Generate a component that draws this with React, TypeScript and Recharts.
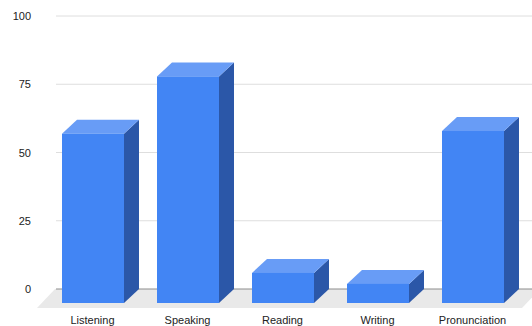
import React from "react";
import { BarChart, Bar, XAxis, YAxis, CartesianGrid } from "recharts";

const skills = ["Listening", "Speaking", "Reading", "Writing", "Pronunciation"];
const scores = [62, 83, 11, 7, 63];
const yTicks = [0, 25, 50, 75, 100];

const data = skills.map((name, i) => ({ name, score: scores[i] }));

const FONT = "'Liberation Sans', Arial, Helvetica, sans-serif";
const DEPTH_X = 15;
const DEPTH_Y = 14;

// 3D box: the scale gives the back face, the front face is pushed down-left
const Box = (props: any) => {
    const { x, y, width: w, height: h } = props;
    if (x == null || y == null) return null;
    const fx = x - DEPTH_X;
    const fy = y + DEPTH_Y;
    return (
        <g>
            <polygon
                points={`${fx + w},${fy} ${x + w},${y} ${x + w},${y + h} ${fx + w},${fy + h}`}
                fill="#2b57a8"
            />
            <polygon
                points={`${fx},${fy} ${fx + w},${fy} ${x + w},${y} ${x},${y}`}
                fill="#689cf6"
            />
            <rect x={fx} y={fy} width={w} height={h} fill="#4285f4" />
        </g>
    );
};

// grid lines reach a little left of the plot; the zero line also gets the floor
const GridLine = (props: any) => {
    const { x1, x2, y1 } = props;
    const isBase = Math.abs(y1 - (props.y + props.height)) < 1;
    if (isBase) {
        return (
            <g>
                <polygon
                    points={`${x1 - 5},${y1} ${x2 + 5},${y1} ${x2 - 13},${y1 + 19} ${x1 - 23},${y1 + 19}`}
                    fill="#e9e9e9"
                />
                <line x1={x1 - 4} x2={x2} y1={y1} y2={y1} stroke="#8c8c8c" strokeWidth={1} />
            </g>
        );
    }
    return <line x1={x1 - 4} x2={x2} y1={y1} y2={y1} stroke="#dedede" strokeWidth={1} />;
};

const XTick = (props: any) => {
    const { x, y, payload } = props;
    return (
        <text x={x - DEPTH_X} y={y + 27} textAnchor="middle" fontSize={11} fill="#222" fontFamily={FONT}>
            {payload.value}
        </text>
    );
};

const YTick = (props: any) => {
    const { x, y, payload } = props;
    return (
        <text x={x - 21} y={y} dy={4} textAnchor="end" fontSize={11} fill="#222" fontFamily={FONT}>
            {payload.value}
        </text>
    );
};

const App = () => {
    return (
        <div style={{ position: "absolute", left: 0, top: 0, width: 532, height: 326, overflow: "hidden", background: "#fff" }}>
            <BarChart
                width={540}
                height={326}
                data={data}
                margin={{ top: 16, right: 5, left: 0, bottom: 7 }}
            >
                <CartesianGrid vertical={false} horizontal={GridLine} />
                <XAxis dataKey="name" axisLine={false} tickLine={false} height={30} tick={XTick} interval={0} />
                <YAxis
                    width={60}
                    domain={[0, 100]}
                    ticks={yTicks}
                    axisLine={false}
                    tickLine={false}
                    tick={YTick}
                />
                <Bar dataKey="score" barSize={62} shape={Box} isAnimationActive={false} />
            </BarChart>
        </div>
    );
};

export default App;
